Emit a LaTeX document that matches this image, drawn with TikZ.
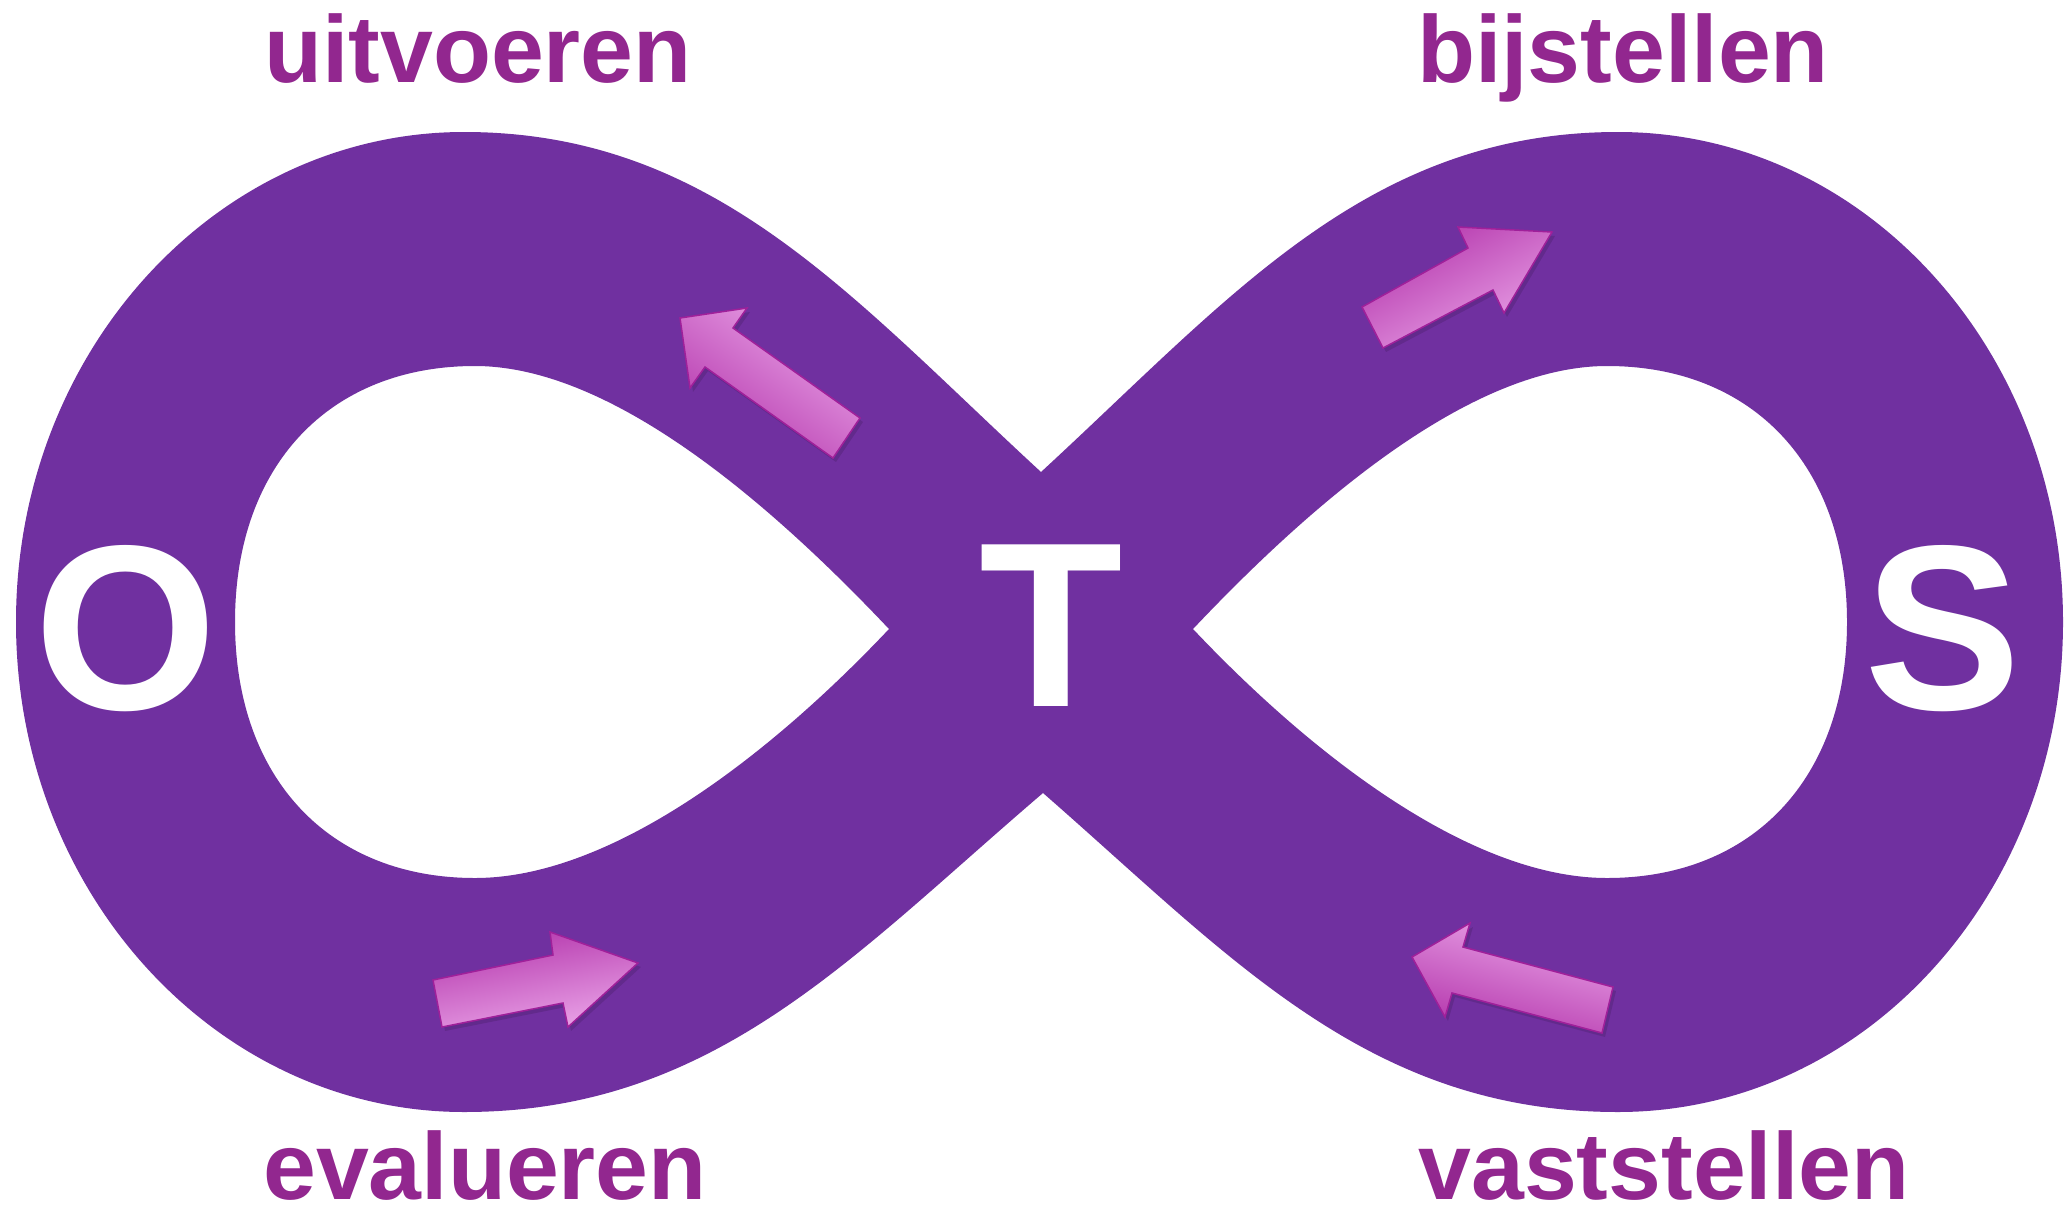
\documentclass[tikz,border=0pt]{standalone}
\usepackage{fontspec}
\setmainfont{Liberation Sans}
\definecolor{bandpurple}{HTML}{7030A0}
\definecolor{labelpurple}{HTML}{92278F}
\definecolor{arrowdark}{HTML}{B436AC}
\definecolor{arrowlight}{HTML}{EAA4E8}
\definecolor{arrowedge}{HTML}{A0209A}
\tikzset{
  band/.style={fill=bandpurple},
  label/.style={text=labelpurple, font=\fontsize{95}{95}\selectfont\bfseries, anchor=base, inner sep=0pt, text depth=0pt},
  letter/.style={text=white, font=\fontsize{235}{235}\selectfont\bfseries, anchor=base, inner sep=0pt},
  pinkarrow/.style={top color=arrowdark, bottom color=arrowlight, draw=arrowedge, line width=1.5pt, line join=miter},
  arrowshadow/.style={fill=black, opacity=0.12}
}
\begin{document}
\begin{tikzpicture}[x=1pt,y=-1pt]
\useasboundingbox (0,0) rectangle (2069,1210);
\fill[white] (0,0) rectangle (2069,1210);

% infinity band
\begin{scope}[shift={(1041,622)}, yscale=-1]
\fill[band, even odd rule]
  (0,150) .. controls (-190,325) and (-327,490) .. (-577,490)
  .. controls (-824,490) and (-1025,271) .. (-1025,0)
  .. controls (-1025,-271) and (-824,-490) .. (-577,-490)
  .. controls (-327,-490) and (-190,-335) .. (2,-171)
  .. controls (190,-335) and (327,-490) .. (577,-490)
  .. controls (824,-490) and (1022,-271) .. (1022,0)
  .. controls (1022,271) and (824,490) .. (577,490)
  .. controls (327,490) and (190,325) .. (0,150) -- cycle
  (-152,-7) .. controls (-272,120) and (-430,256) .. (-566,256)
  .. controls (-712,256) and (-806,156) .. (-806,0)
  .. controls (-806,-156) and (-712,-256) .. (-566,-256)
  .. controls (-430,-256) and (-272,-134) .. (-152,-7) -- cycle
  (152,-7) .. controls (272,120) and (430,256) .. (566,256)
  .. controls (712,256) and (806,156) .. (806,0)
  .. controls (806,-156) and (712,-256) .. (566,-256)
  .. controls (430,-256) and (272,-134) .. (152,-7) -- cycle;
\end{scope}

% arrow shadows
\begin{scope}[shift={(3,4)}]
\fill[arrowshadow] (680,318) -- (747,308) -- (733,328) -- (860,418) -- (833,458) -- (705,367) -- (690,388) -- cycle;
\fill[arrowshadow] (1552,232) -- (1458,227) -- (1468,248) -- (1362,307) -- (1383,348) -- (1493,290) -- (1504,313) -- cycle;
\fill[arrowshadow] (638,963) -- (550,932) -- (553,955) -- (433,980) -- (442,1027) -- (563,1003) -- (568,1027) -- cycle;
\fill[arrowshadow] (1412,957) -- (1470,923) -- (1463,947) -- (1613,987) -- (1602,1033) -- (1452,993) -- (1445,1017) -- cycle;
\end{scope}

% arrows
\shade[pinkarrow, shading angle=144] (680,318) -- (747,308) -- (733,328) -- (860,418) -- (833,458) -- (705,367) -- (690,388) -- cycle;
\shade[pinkarrow, shading angle=28] (1552,232) -- (1458,227) -- (1468,248) -- (1362,307) -- (1383,348) -- (1493,290) -- (1504,313) -- cycle;
\shade[pinkarrow, shading angle=11] (638,963) -- (550,932) -- (553,955) -- (433,980) -- (442,1027) -- (563,1003) -- (568,1027) -- cycle;
\shade[pinkarrow, shading angle=165] (1412,957) -- (1470,923) -- (1463,947) -- (1613,987) -- (1602,1033) -- (1452,993) -- (1445,1017) -- cycle;

% letters
\node[letter] (o) at (126,709) {O};
\node[letter] (t) at (1051,706) {T};
\node[letter] (s) at (1943,709) {S};

% labels
\node[label] (uitvoeren) at (478,82) {uitvoeren};
\node[label] (bijstellen) at (1623,82) {bijstellen};
\node[label] (evalueren) at (485,1199) {evalueren};
\node[label] (vaststellen) at (1664,1199) {vaststellen};
\end{tikzpicture}
\end{document}
